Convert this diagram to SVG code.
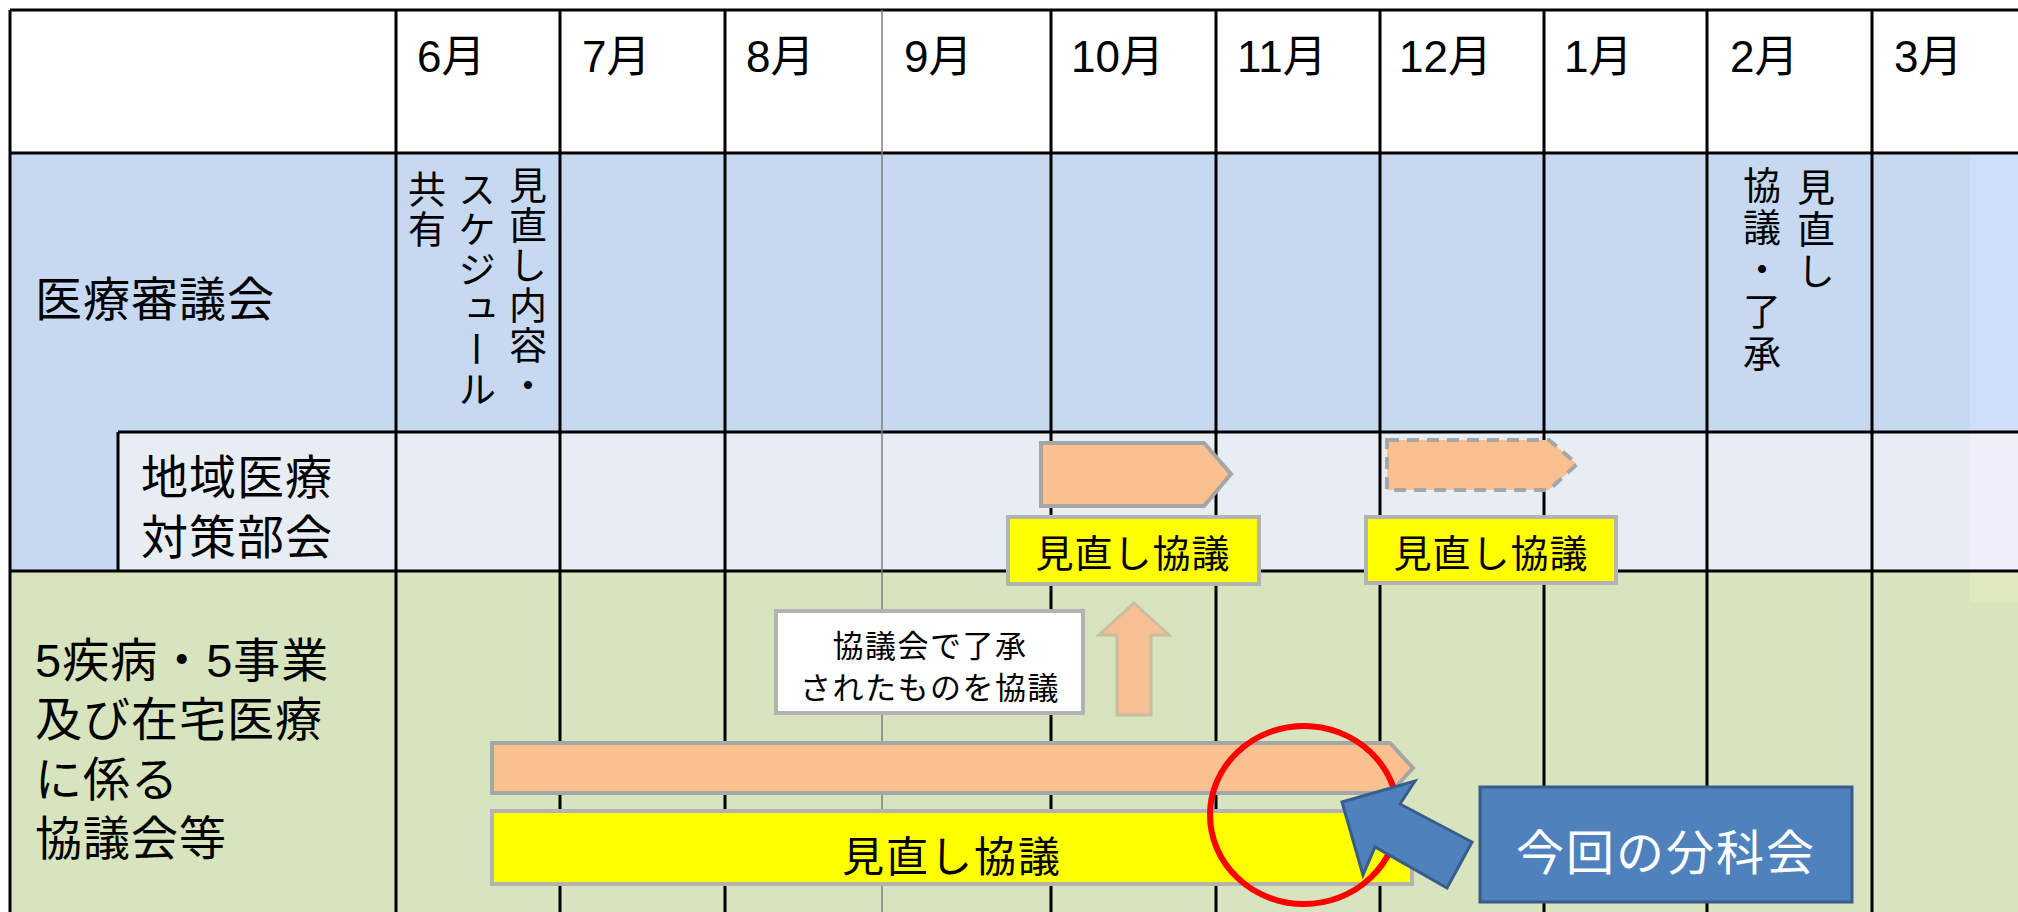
<svg xmlns="http://www.w3.org/2000/svg" width="2018" height="912" viewBox="0 0 2018 912">
<style>
.t{font-family:"Liberation Sans","Noto Sans CJK JP",sans-serif;fill:#000}
.lbl{font-size:47px;letter-spacing:1px}
.mon{font-size:44px}
.vt{font-size:38px;writing-mode:vertical-rl;letter-spacing:2px;font-family:"Noto Sans CJK JP",sans-serif}
.grid{stroke:#000;stroke-width:3;fill:none}
.peach{fill:#fac090;stroke:#a6a6a6;stroke-width:4}
.ybox{fill:#ffff00;stroke:#b3b3b3;stroke-width:4}
</style>
<rect x="0" y="0" width="2018" height="912" fill="#ffffff"/>
<g id="backgrounds">
<rect x="10" y="10" width="2008" height="143" fill="#ffffff"/>
<rect x="10" y="153" width="2008" height="418" fill="#c6d9f0"/>
<rect x="118" y="432" width="1900" height="139" fill="#e8edf4"/>
<rect x="10" y="571" width="2008" height="341" fill="#d7e4bd"/>
<rect x="1970" y="153" width="48" height="279" fill="#cfdefa"/>
<rect x="1970" y="432" width="48" height="139" fill="#eeeffb"/>
<rect x="1970" y="571" width="48" height="31" fill="#dfebbf"/>
</g>
<g id="grid">
<path class="grid" d="M10 10H2018M10 153H2018M118 432H2018M10 571H2018M10 10V912M118 432V571"/>
<path class="grid" d="M396 10V912M560 10V912M725 10V912M1051 10V912M1216 10V912M1380 10V912M1544 10V912M1707 10V912M1872 10V912"/>
<path d="M882 10V912" stroke="#7f7f7f" stroke-width="1.5" fill="none"/>
</g>
<g id="months">
<text class="t mon" x="417" y="72">6月</text>
<text class="t mon" x="582" y="72">7月</text>
<text class="t mon" x="746" y="72">8月</text>
<text class="t mon" x="904" y="72">9月</text>
<text class="t mon" x="1071" y="72">10月</text>
<text class="t mon" x="1237" y="72">11月</text>
<text class="t mon" x="1399" y="72">12月</text>
<text class="t mon" x="1564" y="72">1月</text>
<text class="t mon" x="1730" y="72">2月</text>
<text class="t mon" x="1894" y="72">3月</text>
</g>
<g id="row-labels">
<text class="t lbl" x="35" y="316">医療審議会</text>
<text class="t lbl"><tspan x="141" y="494">地域医療</tspan><tspan x="141" y="554">対策部会</tspan></text>
<text class="t lbl"><tspan x="35" y="677">5疾病・5事業</tspan><tspan x="35" y="736">及び在宅医療</tspan><tspan x="35" y="796">に係る</tspan><tspan x="35" y="855">協議会等</tspan></text>
</g>
<g id="node-june-council">
<text class="t vt" x="528" y="166">見直し内容・</text>
<text class="t vt" x="477" y="170">スケジュール</text>
<text class="t vt" x="427" y="170">共有</text>
</g>
<g id="node-feb-council">
<text class="t vt" x="1816" y="168" style="letter-spacing:4px">見直し</text>
<text class="t vt" x="1762" y="166" style="letter-spacing:4px">協議・了承</text>
</g>
<g id="node-arrow-oct">
<polygon class="peach" points="1041,443 1204,443 1231,474 1204,506 1041,506"/>
</g>
<g id="node-box-oct">
<rect class="ybox" x="1008" y="517" width="251" height="67"/>
<text class="t" x="1133" y="567" font-size="38" letter-spacing="1" text-anchor="middle">見直し協議</text>
</g>
<g id="node-arrow-dec">
<polygon points="1387,440 1549,440 1577,464 1549,490 1387,490" fill="#fac090" stroke="#a6a6a6" stroke-width="4" stroke-dasharray="12 8"/>
</g>
<g id="node-box-dec">
<rect class="ybox" x="1366" y="517" width="250" height="66"/>
<text class="t" x="1491" y="567" font-size="38" letter-spacing="1" text-anchor="middle">見直し協議</text>
</g>
<g id="node-note">
<rect x="776" y="611" width="307" height="102" fill="#ffffff" stroke="#b3b3b3" stroke-width="4"/>
<text class="t" font-size="31" letter-spacing="1.5" text-anchor="middle"><tspan x="930" y="657">協議会で了承</tspan><tspan x="930" y="699">されたものを協議</tspan></text>
</g>
<g id="connectors">
<polygon points="1134,603 1169,635 1151,635 1151,715 1117,715 1117,635 1099,635" fill="#f6bf94" stroke="#cbbd9f" stroke-width="3"/>
</g>
<g id="node-main-arrow">
<polygon class="peach" points="492,743 1390,743 1413,768 1390,793 492,793"/>
</g>
<g id="node-main-box">
<rect class="ybox" x="492" y="811" width="920" height="73"/>
<text class="t" x="952" y="872" font-size="42" letter-spacing="2" text-anchor="middle">見直し協議</text>
</g>
<g id="node-highlight">
<ellipse cx="1304" cy="815" rx="94" ry="89" fill="none" stroke="#ff0000" stroke-width="6"/>
</g>
<g id="node-pointer">
<polygon points="1342,802 1415,781 1400,804 1472,842 1447,888 1375,847 1363,875" fill="#4f81bd" stroke="#385d8a" stroke-width="3" stroke-linejoin="miter"/>
</g>
<g id="node-current">
<rect x="1480" y="787" width="372" height="115" fill="#4f81bd" stroke="#385d8a" stroke-width="3"/>
<text x="1666" y="870" font-family="Liberation Sans, Noto Sans CJK JP, sans-serif" font-size="48" letter-spacing="2" fill="#ffffff" text-anchor="middle">今回の分科会</text>
</g>
</svg>
